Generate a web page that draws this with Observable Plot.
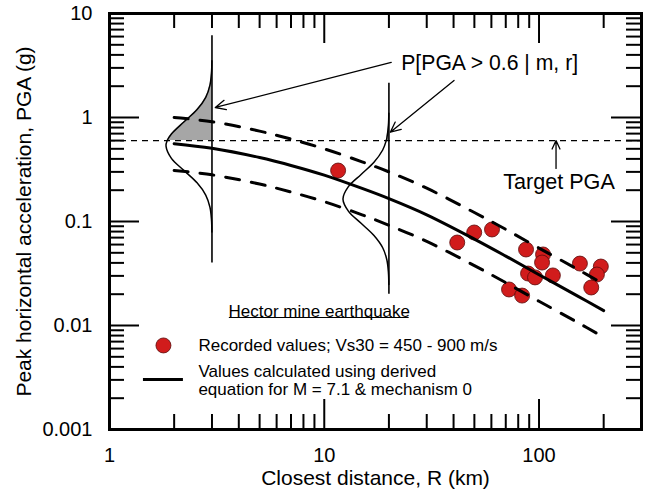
<!DOCTYPE html>
<html><head><meta charset="utf-8">
<script src="https://cdn.jsdelivr.net/npm/d3@7"></script>
<script src="https://cdn.jsdelivr.net/npm/@observablehq/plot@0.6"></script>
<style>
body{margin:0;background:#fff;}
#chart svg{display:block;}
</style></head><body><div id="chart"></div>
<script>
// ---- Recorded values (Hector Mine, Vs30 = 450-900 m/s) ----
const recordedR   = [11.6, 41.6, 49.9, 60.4, 87.0, 104.4, 103.3, 88.9, 95.8, 116, 72.5, 83.4, 155, 194, 186, 175];
const recordedPGA = [0.309, 0.0628, 0.0784, 0.0838, 0.0538, 0.0482, 0.0403, 0.0316, 0.0290, 0.0303, 0.0222, 0.0194, 0.0394, 0.0369, 0.0309, 0.0232];

// ---- Derived equation: median and +/- one sigma ----
const curveR    = [2, 3, 5, 7, 10, 15, 20, 30, 50, 70, 100, 150, 200];
const medianPGA = [0.56, 0.506, 0.412, 0.346, 0.279, 0.208, 0.166, 0.116, 0.0678, 0.0465, 0.0308, 0.0194, 0.0139];
const upperPGA  = [1.0, 0.91, 0.74, 0.62, 0.50, 0.375, 0.30, 0.209, 0.122, 0.084, 0.0555, 0.035, 0.025];
const lowerPGA  = [0.31, 0.281, 0.229, 0.192, 0.155, 0.116, 0.092, 0.0644, 0.0377, 0.0258, 0.0171, 0.0108, 0.0077];

// ---- Distribution curves ----
const bell1R   = [2.997, 2.984, 2.936, 2.806, 2.557, 2.225, 1.942, 1.833, 1.856, 1.942, 2.225, 2.557, 2.806, 2.936, 2.984, 2.997];
const bell1PGA = [0.0794, 0.1045, 0.137, 0.1796, 0.2353, 0.3085, 0.4044, 0.53, 0.6, 0.6947, 0.9106, 1.193, 1.564, 2.05, 2.687, 3.52];
const bell2R   = [19.98, 19.89, 19.57, 18.71, 17.04, 14.84, 12.95, 12.22, 12.95, 14.84, 17.04, 18.71, 19.44, 19.57, 19.89, 19.98];
const bell2PGA = [0.0248, 0.03255, 0.04266, 0.0559, 0.07328, 0.09605, 0.1259, 0.165, 0.2163, 0.2835, 0.3715, 0.487, 0.6, 0.6383, 0.8366, 1.096];
const distR      = [3, 20];
const distTop    = [6.1, 2.14];
const distBottom = [0.04, 0.02];
const targetPGA  = [0.6];

// ---- Ticks ----
const xMajor = [10, 100];
const xMinor = [2, 3, 4, 5, 6, 7, 8, 9, 20, 30, 40, 50, 60, 70, 80, 90, 200];
const yMajor = [0.01, 0.1, 1];
const yMinor = [0.002, 0.003, 0.004, 0.005, 0.006, 0.007, 0.008, 0.009,
                0.02, 0.03, 0.04, 0.05, 0.06, 0.07, 0.08, 0.09,
                0.2, 0.3, 0.4, 0.5, 0.6, 0.7, 0.8, 0.9,
                2, 3, 4, 5, 6, 7, 8, 9];
const xTickLabels = [1, 10, 100];
const yTickLabels = [0.001, 0.01, 0.1, 1, 10];

// ---- Annotations ----
const probText = "P[PGA > 0.6 | m, r]";
const probR = 58.9, probPGA = 3.30;
const targetText = "Target PGA";
const targetTextR = 123.9, targetTextPGA = 0.237;
const arrowR1   = [20.5, 40.2, 120];
const arrowPGA1 = [3.38, 2.27, 0.3236];
const arrowR2   = [3.11, 20.3, 120];
const arrowPGA2 = [1.248, 0.722, 0.6];

// ---- Legend ----
const legendTitle = "Hector mine earthquake";
const legendTitleR = 9.48, legendTitlePGA = 0.01365;
const underlineR = [3.615, 24.86], underlinePGA = [0.01194];
const legendText = ["Recorded values; Vs30 = 450 - 900 m/s", "Values calculated using derived", "equation for M = 7.1 & mechanism 0"];
const legendTextR = 2.594;
const legendTextPGA = [0.00643, 0.00361, 0.00243];
const legendDotR = [1.783], legendDotPGA = [0.00643];
const legendLineR = [1.439, 2.209], legendLinePGA = [0.00303];

// ---- Tables ----
const recorded = recordedR.map((r, i) => ({r, pga: recordedPGA[i]}));
const median = curveR.map((r, i) => ({r, pga: medianPGA[i]}));
const upper = curveR.map((r, i) => ({r, pga: upperPGA[i]}));
const lower = curveR.map((r, i) => ({r, pga: lowerPGA[i]}));
const bell1 = bell1R.map((r, i) => ({r, pga: bell1PGA[i]}));
const bell2 = bell2R.map((r, i) => ({r, pga: bell2PGA[i]}));
const shade1 = bell1.filter(d => d.pga >= targetPGA[0]);
const shade2 = bell2.filter(d => d.pga >= targetPGA[0]);
const dists = distR.map((r, i) => ({r, top: distTop[i], bottom: distBottom[i]}));
const arrows = arrowR1.map((r, i) => ({x1: r, y1: arrowPGA1[i], x2: arrowR2[i], y2: arrowPGA2[i]}));
const legendRows = legendText.map((t, i) => ({t, pga: legendTextPGA[i]}));

const FONT = "'Liberation Sans', Arial, Helvetica, sans-serif";
const PH = 416, PW = 532;
const majorLen = 30, minorLen = 15;

const chart = Plot.plot({
  width: 646, height: 496,
  marginLeft: 109, marginRight: 5, marginTop: 13, marginBottom: 67,
  style: {fontFamily: FONT, background: "#fff", color: "#000", overflow: "visible"},
  x: {type: "log", domain: [1, 300], axis: null},
  y: {type: "log", domain: [0.001, 10], axis: null},
  marks: [
    // ticks (inward, mirrored)
    Plot.ruleX(xMajor, {x: d => d, insetTop: PH - majorLen, stroke: "#000", strokeWidth: 2}),
    Plot.ruleX(xMinor, {x: d => d, insetTop: PH - minorLen, stroke: "#000", strokeWidth: 2}),
    Plot.ruleX(xMajor, {x: d => d, insetBottom: PH - majorLen, stroke: "#000", strokeWidth: 2}),
    Plot.ruleX(xMinor, {x: d => d, insetBottom: PH - minorLen, stroke: "#000", strokeWidth: 2}),
    Plot.ruleY(yMajor, {y: d => d, insetRight: PW - majorLen, stroke: "#000", strokeWidth: 2}),
    Plot.ruleY(yMinor, {y: d => d, insetRight: PW - minorLen, stroke: "#000", strokeWidth: 2}),
    Plot.ruleY(yMajor, {y: d => d, insetLeft: PW - majorLen, stroke: "#000", strokeWidth: 2}),
    Plot.ruleY(yMinor, {y: d => d, insetLeft: PW - minorLen, stroke: "#000", strokeWidth: 2}),
    // tick labels
    Plot.text(xTickLabels, {x: d => d, text: d => String(d), frameAnchor: "bottom", lineAnchor: "middle", textAnchor: "middle", dy: 26, fontSize: 20}),
    Plot.text(yTickLabels, {y: d => d, text: d => String(d), frameAnchor: "left", lineAnchor: "middle", textAnchor: "end", dx: -17, fontSize: 20}),
    // axis labels
    Plot.text(["Closest distance, R (km)"], {frameAnchor: "bottom", lineAnchor: "middle", textAnchor: "middle", dy: 49, fontSize: 21}),
    Plot.text(["Peak horizontal acceleration, PGA (g)"], {frameAnchor: "left", lineAnchor: "middle", textAnchor: "middle", dx: -85, rotate: -90, fontSize: 21}),
    // target PGA line
    Plot.ruleY(targetPGA, {y: d => d, stroke: "#000", strokeWidth: 1.2, strokeDasharray: "6,5"}),
    // distributions
    Plot.areaX(shade1, {y: "pga", x1: "r", x2: distR[0], fill: "#a6a6a6", curve: "catmull-rom"}),
    Plot.areaX(shade2, {y: "pga", x1: "r", x2: distR[1], fill: "#a6a6a6", curve: "catmull-rom"}),
    Plot.ruleX(dists, {x: "r", y1: "bottom", y2: "top", stroke: "#000", strokeWidth: 1.6}),
    Plot.line(bell1, {x: "r", y: "pga", curve: "catmull-rom", stroke: "#000", strokeWidth: 1.5}),
    Plot.line(bell2, {x: "r", y: "pga", curve: "catmull-rom", stroke: "#000", strokeWidth: 1.5}),
    // recorded values
    Plot.dot(recorded, {x: "r", y: "pga", r: 7.5, fill: "#d11c1c", stroke: "#5a0a0a", strokeWidth: 0.8}),
    // derived curves
    Plot.line(upper, {x: "r", y: "pga", curve: "catmull-rom", stroke: "#000", strokeWidth: 3, strokeDasharray: "14,12"}),
    Plot.line(lower, {x: "r", y: "pga", curve: "catmull-rom", stroke: "#000", strokeWidth: 3, strokeDasharray: "14,12"}),
    Plot.line(median, {x: "r", y: "pga", curve: "catmull-rom", stroke: "#000", strokeWidth: 3}),
    // annotations
    Plot.arrow(arrows, {x1: "x1", y1: "y1", x2: "x2", y2: "y2", stroke: "#000", strokeWidth: 1.3, headLength: 13, headAngle: 50}),
    Plot.text([probText], {x: probR, y: probPGA, fontSize: 21.2, fill: "#000"}),
    Plot.text([targetText], {x: targetTextR, y: targetTextPGA, fontSize: 21.6, fill: "#000"}),
    // legend
    Plot.text([legendTitle], {x: legendTitleR, y: legendTitlePGA, fontSize: 17}),
    Plot.ruleY(underlinePGA, {y: d => d, x1: underlineR[0], x2: underlineR[1], stroke: "#000", strokeWidth: 1.2}),
    Plot.dot(legendDotR, {x: d => d, y: legendDotPGA[0], r: 7.5, fill: "#d11c1c", stroke: "#5a0a0a", strokeWidth: 0.8}),
    Plot.ruleY(legendLinePGA, {y: d => d, x1: legendLineR[0], x2: legendLineR[1], stroke: "#000", strokeWidth: 3}),
    Plot.text(legendRows, {x: legendTextR, y: "pga", text: "t", textAnchor: "start", fontSize: 17}),
    // frame
    Plot.frame({stroke: "#000", strokeWidth: 3})
  ]
});
document.getElementById("chart").appendChild(chart);
</script>
</body></html>
